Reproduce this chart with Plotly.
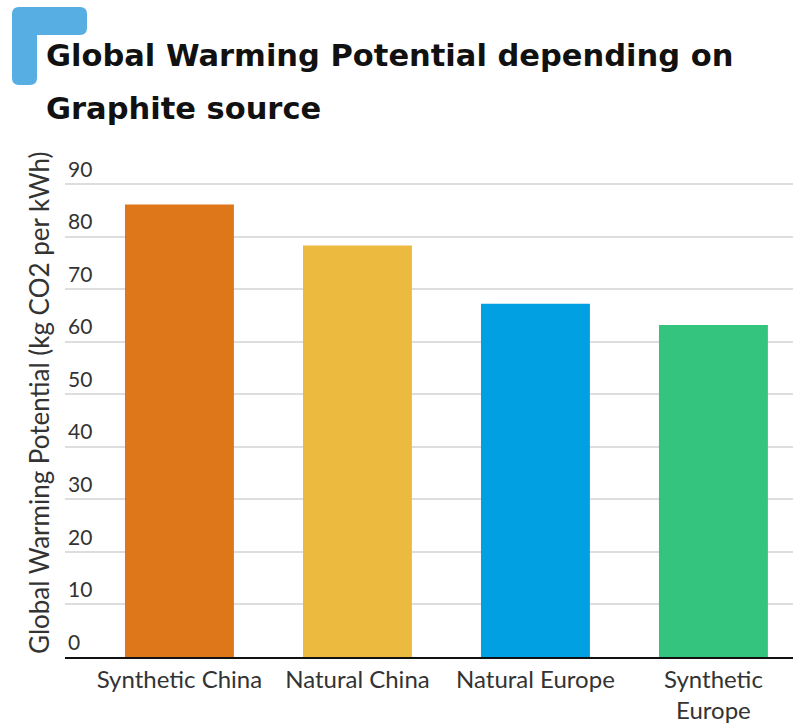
import plotly.graph_objects as go

categories = ["Synthetic China", "Natural China", "Natural Europe", "Synthetic<br>Europe"]
values = [86.1, 78.3, 67.2, 63.2]
colors = ["#DE761A", "#EDBA40", "#00A0E3", "#35C47E"]
tick_vals = [0, 10, 20, 30, 40, 50, 60, 70, 80, 90]

W, H = 793, 723
L, R, T, B = 65, 0, 150, 66
pw, ph = W - L - R, H - T - B

def px(x):
    return (x - L) / pw

def py(y):
    return (H - B - y) / ph

FONT = "Lato"
TFONT = "DejaVu Sans"

fig = go.Figure(go.Bar(
    x=categories, y=values, marker_color=colors, width=0.612,
    marker_line_width=0,
))

# decorative rounded L-shape
r = 7
path = (
    f"M {px(12+r)},{py(7)} L {px(87-r)},{py(7)} Q {px(87)},{py(7)} {px(87)},{py(7+r)} "
    f"L {px(87)},{py(35-r)} Q {px(87)},{py(35)} {px(87-r)},{py(35)} "
    f"L {px(37)},{py(35)} L {px(37)},{py(85-r)} Q {px(37)},{py(85)} {px(37-r)},{py(85)} "
    f"L {px(12+r)},{py(85)} Q {px(12)},{py(85)} {px(12)},{py(85-r)} "
    f"L {px(12)},{py(7+r)} Q {px(12)},{py(7)} {px(12+r)},{py(7)} Z"
)
fig.add_shape(type="path", path=path, xref="paper", yref="paper",
              fillcolor="#56AEE2", line_width=0, layer="above")

fig.add_annotation(text="<b>Global Warming Potential depending on</b>", xref="paper", yref="paper",
                   x=px(44), y=py(56), xanchor="left", yanchor="middle", showarrow=False,
                   font=dict(family=TFONT, size=30.5, color="#111111"))
fig.add_annotation(text="<b>Graphite source</b>", xref="paper", yref="paper",
                   x=px(44), y=py(108), xanchor="left", yanchor="middle", showarrow=False,
                   font=dict(family=TFONT, size=30.5, color="#111111"))
fig.add_annotation(text="Global Warming Potential (kg CO2 per kWh)", xref="paper", yref="paper",
                   x=px(39), y=py(403), xanchor="center", yanchor="middle", showarrow=False,
                   textangle=-90, font=dict(family=FONT, size=26, color="#333333"))

fig.update_layout(
    width=W, height=H, margin=dict(l=L, r=R, t=T, b=B),
    paper_bgcolor="white", plot_bgcolor="white", showlegend=False,
)
fig.update_xaxes(range=[-0.643, 3.447], showgrid=False, showline=True, linecolor="#111111",
                 linewidth=2, ticks="", tickfont=dict(family=FONT, size=24, color="#333333"))
fig.update_yaxes(range=[0, (H - B - T) / 5.255], tickvals=tick_vals, showgrid=True,
                 gridcolor="#DDDDDD", gridwidth=2, zeroline=False, showline=False,
                 ticklabelposition="inside top", ticks="",
                 tickfont=dict(family=FONT, size=21, color="#333333"))

fig.write_html("out.html")
